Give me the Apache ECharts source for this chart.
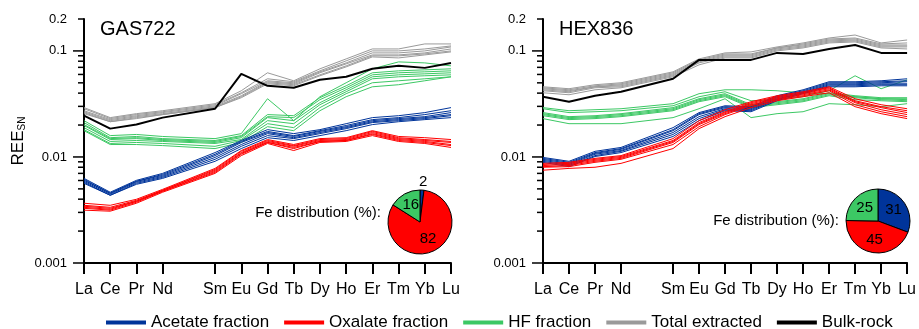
<!DOCTYPE html>
<html><head><meta charset="utf-8">
<script src="https://cdn.jsdelivr.net/npm/echarts@6/dist/echarts.min.js"></script>
<style>html,body{margin:0;padding:0;background:#fff}#c{width:919px;height:329px}</style>
</head><body><div id="c"></div>
<script>
// REE categories (Pm not measured -> null)
const categories = ['La','Ce','Pr','Nd','Pm','Sm','Eu','Gd','Tb','Dy','Ho','Er','Tm','Yb','Lu'];
const majorTickValues = [0.001, 0.01, 0.1];
const minorTickValues = [0.002,0.003,0.004,0.005,0.006,0.007,0.008,0.009,0.02,0.03,0.04,0.05,0.06,0.07,0.08,0.09,0.2];
const seriesNames = ['Acetate fraction','Oxalate fraction','HF fraction','Total extracted','Bulk-rock'];
const panelTitles = ['GAS722','HEX836'];

// ---- GAS722 ----
const gasBulk = [0.0245,0.0185,0.0202,0.0235,null,0.0285,0.0608,0.0469,0.0449,0.0534,0.0570,0.0678,0.0723,0.0692,0.0771];
const gasTotal = [
[0.0292,0.0235,0.0256,0.0273,null,0.0318,0.0421,0.0622,0.0523,0.0678,0.0841,0.1044,0.1044,0.1164,0.1164],
[0.0285,0.0230,0.0251,0.0267,null,0.0311,0.0403,0.0546,0.0512,0.0649,0.0806,0.1000,0.1000,0.1044,0.1114],
[0.0273,0.0225,0.0245,0.0262,null,0.0304,0.0395,0.0523,0.0501,0.0635,0.0771,0.0958,0.0958,0.1000,0.1090],
[0.0267,0.0220,0.0240,0.0256,null,0.0298,0.0378,0.0512,0.0490,0.0622,0.0755,0.0917,0.0917,0.0958,0.1044],
[0.0262,0.0215,0.0235,0.0251,null,0.0292,0.0370,0.0501,0.0480,0.0595,0.0723,0.0898,0.0898,0.0937,0.1000],
[0.0256,0.0215,0.0230,0.0251,null,0.0292,0.0362,0.0490,0.0469,0.0583,0.0707,0.0878,0.0859,0.0917,0.0979]
];
const gasHF = [
[0.0220,0.0159,0.0163,0.0156,null,0.0149,0.0166,0.0354,0.0220,0.0370,0.0501,0.0678,0.0788,0.0771,0.0723],
[0.0211,0.0152,0.0156,0.0149,null,0.0143,0.0159,0.0251,0.0245,0.0362,0.0469,0.0622,0.0649,0.0663,0.0678],
[0.0202,0.0149,0.0152,0.0146,null,0.0140,0.0156,0.0240,0.0235,0.0347,0.0449,0.0595,0.0622,0.0635,0.0649],
[0.0198,0.0146,0.0149,0.0143,null,0.0137,0.0152,0.0235,0.0220,0.0325,0.0430,0.0570,0.0595,0.0608,0.0622],
[0.0189,0.0140,0.0143,0.0140,null,0.0134,0.0146,0.0220,0.0206,0.0311,0.0412,0.0546,0.0570,0.0583,0.0595],
[0.0181,0.0134,0.0137,0.0134,null,0.0126,0.0143,0.0206,0.0189,0.0292,0.0395,0.0501,0.0523,0.0546,0.0570],
[0.0177,0.0131,0.0131,0.0128,null,0.0120,0.0137,0.0193,0.0177,0.0273,0.0370,0.0459,0.0480,0.0523,0.0570]
];
const gasAcetate = [
[0.00628,0.00465,0.00602,0.00700,null,0.0110,0.0143,0.0181,0.0166,0.0181,0.0206,0.0235,0.0245,0.0262,0.0292],
[0.00615,0.00455,0.00589,0.00685,null,0.0106,0.0140,0.0174,0.0159,0.0177,0.0198,0.0225,0.0235,0.0251,0.0273],
[0.00602,0.00455,0.00589,0.00670,null,0.0103,0.0137,0.0170,0.0156,0.0174,0.0193,0.0220,0.0230,0.0240,0.0262],
[0.00589,0.00445,0.00576,0.00656,null,0.0099,0.0131,0.0166,0.0152,0.0170,0.0189,0.0215,0.0225,0.0235,0.0251],
[0.00576,0.00435,0.00564,0.00642,null,0.0095,0.0126,0.0159,0.0149,0.0166,0.0185,0.0211,0.0220,0.0230,0.0245],
[0.00564,0.00435,0.00552,0.00628,null,0.0091,0.0120,0.0152,0.0143,0.0159,0.0177,0.0202,0.0215,0.0225,0.0235]
];
const gasOxalate = [
[0.00366,0.00350,0.00399,0.00495,null,0.00780,0.0115,0.0146,0.0131,0.0149,0.0152,0.0177,0.0156,0.0152,0.0146],
[0.00350,0.00335,0.00390,0.00485,null,0.00763,0.0113,0.0143,0.0128,0.0146,0.0149,0.0174,0.0152,0.0146,0.0140],
[0.00343,0.00328,0.00382,0.00485,null,0.00747,0.0110,0.0140,0.0126,0.0143,0.0146,0.0170,0.0149,0.0143,0.0137],
[0.00335,0.00321,0.00382,0.00475,null,0.00731,0.0108,0.0137,0.0123,0.0140,0.0143,0.0166,0.0146,0.0140,0.0131],
[0.00328,0.00315,0.00374,0.00475,null,0.00715,0.0106,0.0137,0.0120,0.0140,0.0143,0.0163,0.0143,0.0137,0.0128],
[0.00315,0.00308,0.00366,0.00465,null,0.00700,0.0103,0.0134,0.0115,0.0137,0.0140,0.0159,0.0140,0.0134,0.0123]
];
const gasFe = [2, 82, 16]; // acetate, oxalate, HF (%)

// ---- HEX836 ----
const hexBulk = [0.0370,0.0332,0.0378,0.0412,null,0.0546,0.0823,0.0823,0.0823,0.0958,0.0937,0.1044,0.1139,0.0958,0.0958];
const hexTotal = [
[0.0459,0.0440,0.0480,0.0501,null,0.0635,0.0841,0.0958,0.0979,0.1090,0.1189,0.1324,0.1413,0.1189,0.1268],
[0.0449,0.0430,0.0469,0.0490,null,0.0622,0.0823,0.0937,0.0937,0.1067,0.1164,0.1296,0.1324,0.1164,0.1189],
[0.0440,0.0421,0.0459,0.0480,null,0.0608,0.0806,0.0917,0.0917,0.1067,0.1139,0.1268,0.1296,0.1139,0.1139],
[0.0430,0.0412,0.0459,0.0469,null,0.0595,0.0788,0.0898,0.0898,0.1044,0.1114,0.1242,0.1268,0.1114,0.1114],
[0.0421,0.0403,0.0449,0.0459,null,0.0583,0.0771,0.0878,0.0878,0.1022,0.1090,0.1215,0.1242,0.1090,0.1090],
[0.0403,0.0386,0.0430,0.0449,null,0.0570,0.0739,0.0859,0.0859,0.1000,0.1067,0.1189,0.1215,0.1067,0.1044]
];
const hexHF = [
[0.0285,0.0262,0.0267,0.0273,null,0.0304,0.0370,0.0412,0.0339,0.0347,0.0370,0.0421,0.0583,0.0440,0.0534],
[0.0292,0.0273,0.0279,0.0285,null,0.0318,0.0395,0.0430,0.0430,0.0421,0.0403,0.0395,0.0370,0.0354,0.0347],
[0.0262,0.0240,0.0245,0.0256,null,0.0292,0.0354,0.0395,0.0311,0.0332,0.0354,0.0403,0.0378,0.0362,0.0362],
[0.0256,0.0235,0.0240,0.0251,null,0.0285,0.0347,0.0386,0.0304,0.0325,0.0347,0.0395,0.0370,0.0354,0.0354],
[0.0251,0.0230,0.0235,0.0245,null,0.0279,0.0339,0.0378,0.0298,0.0318,0.0339,0.0386,0.0362,0.0347,0.0339],
[0.0245,0.0225,0.0230,0.0240,null,0.0273,0.0332,0.0370,0.0292,0.0311,0.0332,0.0378,0.0347,0.0339,0.0332],
[0.0230,0.0206,0.0206,0.0206,null,0.0235,0.0285,0.0354,0.0235,0.0256,0.0267,0.0318,0.0311,0.0298,0.0318]
];
const hexAcetate = [
[0.0099,0.0091,0.0113,0.0123,null,0.0189,0.0262,0.0304,0.0298,0.0378,0.0430,0.0512,0.0512,0.0523,0.0546],
[0.0097,0.0089,0.0110,0.0120,null,0.0181,0.0256,0.0298,0.0292,0.0370,0.0421,0.0501,0.0501,0.0512,0.0523],
[0.0095,0.0087,0.0108,0.0118,null,0.0177,0.0251,0.0292,0.0285,0.0362,0.0412,0.0490,0.0490,0.0501,0.0512],
[0.0093,0.0085,0.0106,0.0115,null,0.0170,0.0240,0.0285,0.0279,0.0354,0.0403,0.0480,0.0480,0.0490,0.0490],
[0.0091,0.0083,0.0103,0.0113,null,0.0163,0.0230,0.0279,0.0273,0.0347,0.0403,0.0469,0.0469,0.0480,0.0480],
[0.0089,0.0081,0.0101,0.0110,null,0.0156,0.0220,0.0273,0.0267,0.0339,0.0395,0.0459,0.0459,0.0469,0.0469]
];
const hexOxalate = [
[0.0087,0.0089,0.0097,0.0103,null,0.0149,0.0220,0.0279,0.0332,0.0378,0.0412,0.0459,0.0354,0.0311,0.0285],
[0.0085,0.0087,0.0095,0.0101,null,0.0143,0.0211,0.0267,0.0325,0.0370,0.0403,0.0449,0.0339,0.0298,0.0273],
[0.0083,0.0085,0.0093,0.0099,null,0.0140,0.0206,0.0262,0.0318,0.0362,0.0395,0.0440,0.0332,0.0292,0.0262],
[0.0081,0.0083,0.0091,0.0097,null,0.0137,0.0202,0.0256,0.0311,0.0354,0.0386,0.0430,0.0325,0.0279,0.0251],
[0.0080,0.0081,0.0089,0.0095,null,0.0131,0.0193,0.0251,0.0304,0.0347,0.0378,0.0421,0.0311,0.0267,0.0240],
[0.0075,0.0078,0.0080,0.0087,null,0.0120,0.0185,0.0240,0.0292,0.0339,0.0370,0.0403,0.0298,0.0256,0.0230]
];
const hexFe = [31, 45, 25];

// ---- styling ----
const FONT = "'Liberation Sans', Arial, Helvetica, sans-serif";
const C = {acetate:'#00349a', oxalate:'#ff0000', hf:'#3cc864', total:'#9a9a9a', bulk:'#000000'};
const grids = [
  {left:84, top:19, width:367, height:244},
  {left:543, top:19, width:368, height:244}
];
const skipPm = (i) => i !== 4;

function lineSeries(g, sets, name, color, width, z) {
  return sets.map(d => ({
    type:'line', name, xAxisIndex:g, yAxisIndex:g, data:d,
    symbol:'none', showSymbol:false, connectNulls:true, silent:true,
    lineStyle:{color, width}, itemStyle:{color}, z
  }));
}
function tickSeries(g, values, len) {
  return {
    type:'custom', xAxisIndex:g, yAxisIndex:g, silent:true, clip:false, z:10,
    data: values.map(v => [0, v]),
    renderItem: (params, api) => {
      const p = api.coord([0, api.value(1)]);
      return {type:'line', shape:{x1:p[0]-len, y1:p[1], x2:p[0], y2:p[1]}, style:{stroke:'#000', lineWidth:1.5}};
    }
  };
}
function pieSeries(center, vals, blueAbove) {
  const cols = [C.acetate, C.oxalate, C.hf];
  const nm = ['Acetate','Oxalate','HF'];
  return {
    type:'pie', center, radius:32, startAngle:90, clockwise:true, silent:true, z:20,
    itemStyle:{borderColor:'#000', borderWidth:1},
    label:{position:'inside', formatter:'{c}', fontSize:15, color:'#000', fontFamily:FONT},
    labelLine:{show:false},
    data: vals.map((v,i) => {
      const o = {value:v, name:nm[i], itemStyle:{color:cols[i]}};
      if (i === 0 && blueAbove) {
        o.label = {position:'inside', offset:[2, -21]};
      }
      return o;
    })
  };
}

const datasets = [
  {total:gasTotal, hf:gasHF, acetate:gasAcetate, oxalate:gasOxalate, bulk:gasBulk},
  {total:hexTotal, hf:hexHF, acetate:hexAcetate, oxalate:hexOxalate, bulk:hexBulk}
];

const series = [];
datasets.forEach((d, g) => {
  series.push(...lineSeries(g, d.acetate, seriesNames[0], C.acetate, 1, 4));
  series.push(...lineSeries(g, d.oxalate, seriesNames[1], C.oxalate, 1, 5));
  series.push(...lineSeries(g, d.hf, seriesNames[2], C.hf, 1, 3));
  series.push(...lineSeries(g, d.total, seriesNames[3], C.total, 1, 2));
  series.push(...lineSeries(g, [d.bulk], seriesNames[4], C.bulk, 2, 6));
  series.push(tickSeries(g, majorTickValues, 11));
  series.push(tickSeries(g, minorTickValues, 6));
});
series.push(pieSeries([420, 222], gasFe, true));
series.push(pieSeries([878, 221], hexFe, false));

const xAxes = [0,1].map(g => ({
  type:'category', gridIndex:g, data:categories, boundaryGap:false,
  axisLine:{lineStyle:{color:'#000', width:2}},
  axisTick:{interval:skipPm, length:11, lineStyle:{color:'#000', width:2}},
  axisLabel:{interval:skipPm, color:'#000', fontSize:16, fontFamily:FONT, margin:19},
  splitLine:{show:false}
}));
const yAxes = [0,1].map(g => ({
  type:'log', gridIndex:g, logBase:10, min:0.001, max:0.2,
  axisLine:{show:true, lineStyle:{color:'#000', width:2}},
  axisTick:{show:false},
  axisLabel:{color:'#000', fontSize:13, fontFamily:FONT, margin:17,
    formatter: v => String(parseFloat(Number(v).toPrecision(2)))},
  splitLine:{show:false},
  name: g === 0 ? '{a|REE}{b|SN}' : '',
  nameLocation:'middle', nameRotate:90, nameGap:57,
  nameTextStyle:{color:'#000', fontFamily:FONT, rich:{
    a:{fontSize:17, color:'#000', fontFamily:FONT},
    b:{fontSize:10, color:'#000', fontFamily:FONT, verticalAlign:'bottom', padding:[6,0,0,0]}
  }}
}));

const chart = echarts.init(document.getElementById('c'), null, {renderer:'canvas'});
chart.setOption({
  animation:false,
  backgroundColor:'#fff',
  title: panelTitles.map((t, i) => ({
    text:t, left: i === 0 ? 100 : 559, top:19, padding:0,
    textStyle:{fontSize:20, fontWeight:'normal', color:'#000', fontFamily:FONT}
  })),
  grid: grids,
  xAxis: xAxes,
  yAxis: yAxes,
  legend: {
    show:true, padding:0,
    data: seriesNames, left:106, top:314, icon:'rect', itemWidth:40, itemHeight:4, itemGap:15,
    textStyle:{fontSize:17, color:'#000', fontFamily:FONT, padding:[0,0,0,0]}
  },
  graphic: [
    {type:'text', x:381, y:213, style:{text:'Fe distribution (%):', fill:'#000', font:'15px ' + FONT, align:'right', verticalAlign:'middle'}},
    {type:'text', x:839, y:221, style:{text:'Fe distribution (%):', fill:'#000', font:'15px ' + FONT, align:'right', verticalAlign:'middle'}}
  ],
  series
});
</script></body></html>
